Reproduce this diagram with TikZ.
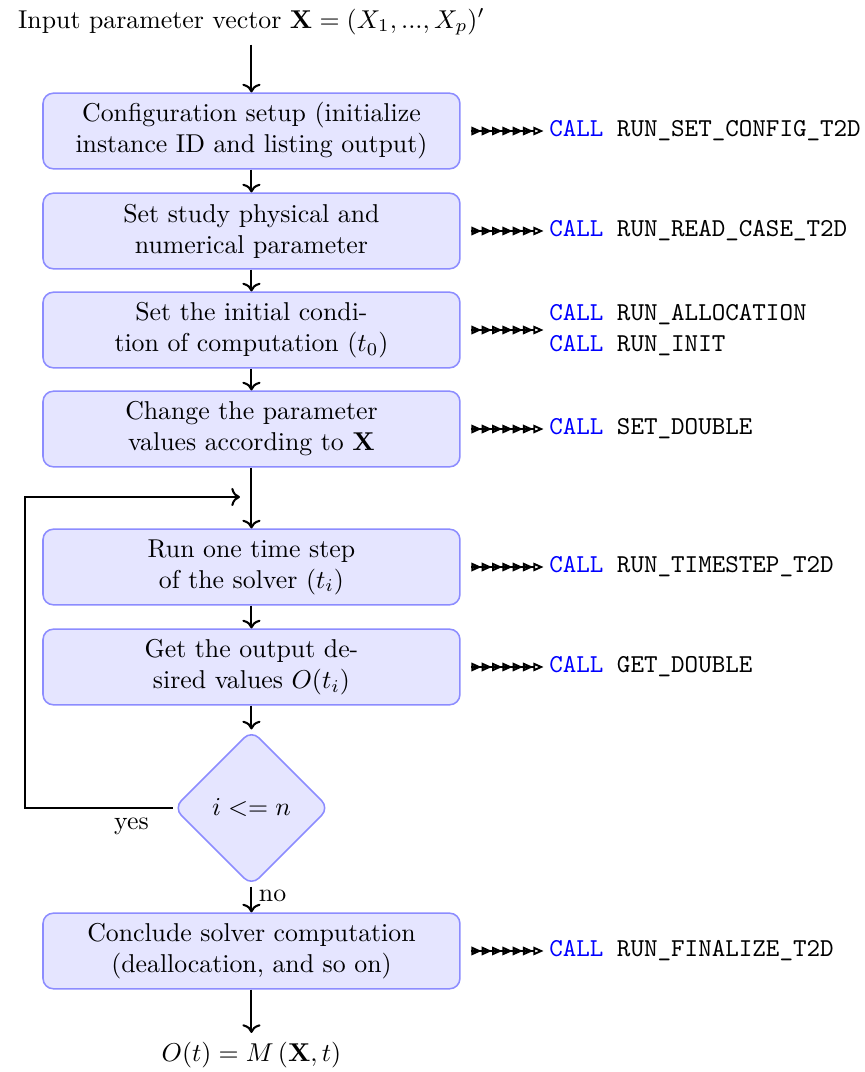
\documentclass[tikz,border=0pt]{standalone}
\usetikzlibrary{shapes.geometric,arrows.meta}

\begin{document}
\begin{tikzpicture}[
  block/.style={rectangle, draw=blue!45, fill=blue!10, semithick, rounded corners, minimum width=5.68cm, minimum height=1.03cm, align=center},
  decision/.style={diamond, draw=blue!45, fill=blue!10, semithick, rounded corners, aspect=1, minimum size=2.12cm, inner sep=0pt},
  call/.style={anchor=west, inner sep=2pt, align=left, font=\ttfamily},
  line/.style={thick, ->},
  tri/.tip={Triangle[open, length=4pt, width=3.3pt]},
  calls/.style={line width=0.75pt, shorten <=3.9pt, -{tri[]tri[]tri[]tri[]tri[]tri[]tri[]}}
]
\useasboundingbox (-3.426,0) rectangle (8.358,-14.605);

\node (input) at (0,-0.30) {Input parameter vector $\mathbf{X}=(X_1,...,X_p)'$};
\node[block] (setup) at (0,-1.785) {Configuration setup (initialize\\instance ID and listing output)};
\node[block] (read) at (0,-3.147) {Set study physical and\\numerical parameter};
\node[block] (init) at (0,-4.496) {Set the initial condi-\\tion of computation ($t_0$)};
\node[block] (change) at (0,-5.845) {Change the parameter\\values according to $\mathbf{X}$};
\coordinate (join) at (-0.157,-6.771);
\coordinate (loop) at (-3.086,-6.771);
\node[block] (step) at (0,-7.725) {Run one time step\\of the solver ($t_i$)};
\node[block] (get) at (0,-9.087) {Get the output de-\\sired values $O(t_i)$};
\node[decision] (test) at (0,-11.008) {$i <= n$};
\node[block] (final) at (0,-12.956) {Conclude solver computation\\(deallocation, and so on)};
\node (output) at (0,-14.373) {$O(t) = M\left(\mathbf{X},t\right)$};

\node[call] (callsetup) at (3.98,-1.785) {\textcolor{blue}{CALL} RUN\_SET\_CONFIG\_T2D};
\node[call] (callread) at (3.98,-3.147) {\textcolor{blue}{CALL} RUN\_READ\_CASE\_T2D};
\node[call] (callinit) at (3.98,-4.496) {\textcolor{blue}{CALL} RUN\_ALLOCATION\\\textcolor{blue}{CALL} RUN\_INIT};
\node[call] (callchange) at (3.98,-5.845) {\textcolor{blue}{CALL} SET\_DOUBLE};
\node[call] (callstep) at (3.98,-7.725) {\textcolor{blue}{CALL} RUN\_TIMESTEP\_T2D};
\node[call] (callget) at (3.98,-9.087) {\textcolor{blue}{CALL} GET\_DOUBLE};
\node[call] (callfinal) at (3.98,-12.956) {\textcolor{blue}{CALL} RUN\_FINALIZE\_T2D};

\draw[line] (input) -- (setup);
\draw[line] (setup) -- (read);
\draw[line] (read) -- (init);
\draw[line] (init) -- (change);
\draw[line] (change) -- (step);
\draw[line] (step) -- (get);
\draw[line] (get) -- (test);
\draw[line] (test) -- node[right, inner sep=2.5pt, pos=0.35] {no} (final);
\draw[line] (final) -- (output);
\draw[line] (test.west) -- node[below, pos=0.28] {yes} (test.west -| loop) |- (join);

\draw[calls] (setup.east) -- (callsetup.west);
\draw[calls] (read.east) -- (callread.west);
\draw[calls] (init.east) -- (callinit.west);
\draw[calls] (change.east) -- (callchange.west);
\draw[calls] (step.east) -- (callstep.west);
\draw[calls] (get.east) -- (callget.west);
\draw[calls] (final.east) -- (callfinal.west);
\end{tikzpicture}
\end{document}
